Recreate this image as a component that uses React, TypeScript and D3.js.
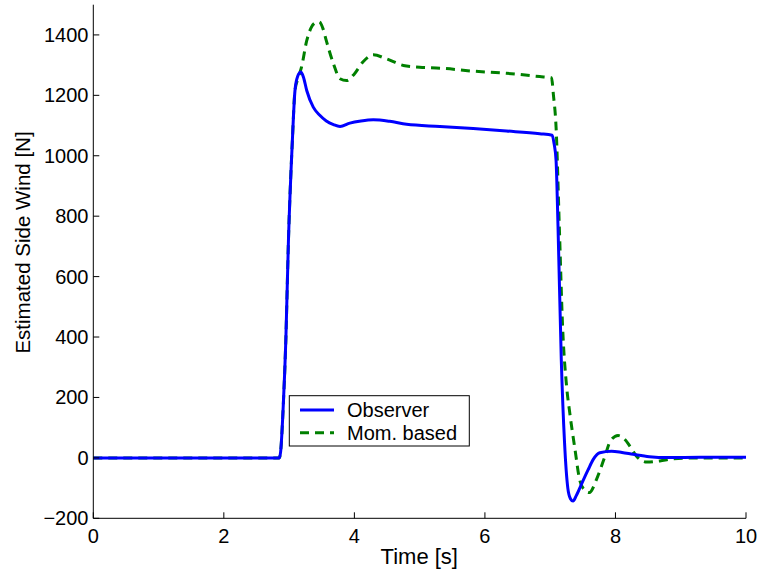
import React from "react";
import * as d3 from "d3";

const obsTime = [0, 2.85, 2.87, 2.91, 2.95, 2.99, 3.05, 3.09, 3.13, 3.18, 3.22, 3.27, 3.37, 3.47, 3.57, 3.68, 3.78, 3.93, 4.1, 4.29, 4.54, 4.8, 5.31, 5.82, 6.33, 6.84, 7.03, 7.06, 7.09, 7.12, 7.17, 7.22, 7.27, 7.31, 7.35, 7.4, 7.5, 7.58, 7.66, 7.76, 7.94, 8.1, 8.27, 8.52, 8.8, 9.3, 10];
const obsValue = [0, 0, 20, 171, 391, 721, 1051, 1216, 1262, 1277, 1260, 1216, 1161, 1134, 1115, 1103, 1097, 1108, 1115, 1119, 1114, 1104, 1097, 1090, 1082, 1073, 1068, 1040, 985, 765, 325, 50, -100, -135, -143, -125, -77, -40, -5, 17, 22, 18, 12, 4, 1, 2, 2];

const momTime = [0, 2.85, 2.87, 2.91, 2.95, 2.99, 3.05, 3.09, 3.14, 3.19, 3.27, 3.34, 3.4, 3.46, 3.52, 3.57, 3.68, 3.78, 3.88, 4.0, 4.13, 4.29, 4.49, 4.75, 5.0, 5.31, 5.82, 6.33, 6.84, 7.02, 7.05, 7.09, 7.14, 7.19, 7.25, 7.3, 7.38, 7.45, 7.52, 7.6, 7.71, 7.84, 7.92, 8.04, 8.14, 8.22, 8.32, 8.48, 8.68, 8.88, 9.3, 10];
const momValue = [0, 0, 20, 171, 391, 721, 1051, 1216, 1258, 1293, 1381, 1425, 1440, 1443, 1420, 1381, 1304, 1255, 1249, 1271, 1310, 1334, 1321, 1299, 1293, 1290, 1280, 1273, 1262, 1258, 1200, 1095, 765, 435, 240, 149, 28, -71, -105, -115, -71, 6, 55, 74, 62, 39, 6, -14, -10, -3, 0, 0];

const xTicks = [0, 2, 4, 6, 8, 10];
const yTicks = [-200, 0, 200, 400, 600, 800, 1000, 1200, 1400];
const seriesNames = ["Observer", "Mom. based"];
const xLabel = "Time [s]";
const yLabel = "Estimated Side Wind [N]";

const FONT = "Liberation Sans, Arial, Helvetica, sans-serif";

export default function App() {
  const x = d3.scaleLinear().domain([0, 10]).range([93.3, 746]);
  const y = d3.scaleLinear().domain([-200, 1500]).range([518.3, 4.7]);

  const line = d3
    .line<[number, number]>()
    .x((d) => x(d[0]))
    .y((d) => y(d[1]))
    .curve(d3.curveMonotoneX);

  const obsPts = obsTime.map((t, i) => [t, obsValue[i]] as [number, number]);
  const momPts = momTime.map((t, i) => [t, momValue[i]] as [number, number]);

  const [x0, x1] = x.range();
  const [y0, y1] = y.range();

  return (
    <svg
      width={760}
      height={574}
      style={{ position: "absolute", left: 0, top: 0, background: "#fff" }}
      fontFamily={FONT}
    >
      <rect x={0} y={0} width={760} height={574} fill="#fff" />
      <path d={line(momPts) || ""} fill="none" stroke="#008000" strokeWidth={3} strokeDasharray="9,6" />
      <path d={line(obsPts) || ""} fill="none" stroke="#0000ff" strokeWidth={3} />

      {/* axes */}
      <line x1={x0} x2={x1} y1={y0} y2={y0} stroke="#000" strokeWidth={1} />
      <line x1={x0} x2={x0} y1={y0} y2={y1} stroke="#000" strokeWidth={1} />
      {xTicks.map((t) => (
        <g key={"x" + t}>
          <line x1={x(t)} x2={x(t)} y1={y0} y2={y0 - 6} stroke="#000" strokeWidth={1} />
          <text x={x(t)} y={542.5} textAnchor="middle" fontSize={20} fill="#000">
            {t}
          </text>
        </g>
      ))}
      {yTicks.map((v) => (
        <g key={"y" + v}>
          <line x1={x0} x2={x0 + 6} y1={y(v)} y2={y(v)} stroke="#000" strokeWidth={1} />
          <text x={88.5} y={y(v)} dy="0.35em" textAnchor="end" fontSize={20} fill="#000">
            {v < 0 ? "\u2212" + Math.abs(v) : v}
          </text>
        </g>
      ))}
      <text x={419.3} y={563.5} textAnchor="middle" fontSize={22} fill="#000">
        {xLabel}
      </text>
      <text
        transform={`translate(29.5,242.5) rotate(-90)`}
        textAnchor="middle"
        fontSize={20.5}
        fill="#000"
      >
        {yLabel}
      </text>

      {/* legend */}
      <rect x={289.3} y={395.7} width={180} height={50.3} fill="#fff" stroke="#000" strokeWidth={1} />
      <line x1={300} x2={334} y1={410} y2={410} stroke="#0000ff" strokeWidth={3} />
      <line x1={300} x2={334} y1={432.7} y2={432.7} stroke="#008000" strokeWidth={3} strokeDasharray="9,6" />
      <text x={347} y={416.7} fontSize={20} fill="#000">
        {seriesNames[0]}
      </text>
      <text x={347} y={440} fontSize={20} fill="#000">
        {seriesNames[1]}
      </text>
    </svg>
  );
}
